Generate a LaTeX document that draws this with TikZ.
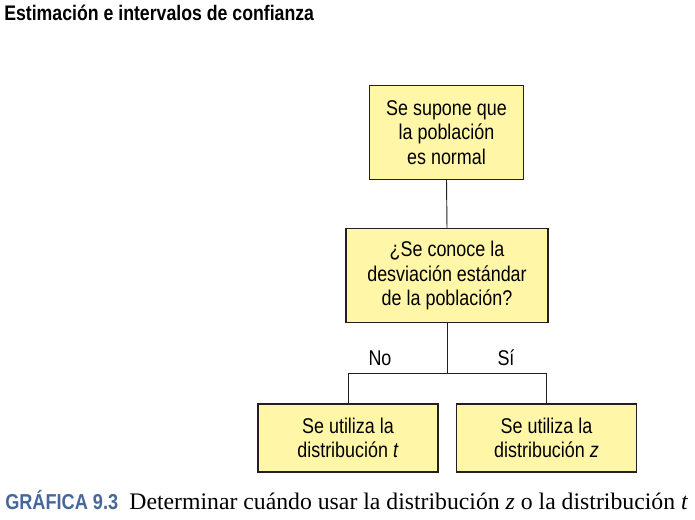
\documentclass[tikz,border=0pt]{standalone}
\usepackage{fontspec}
\setmainfont{Liberation Serif}
\newfontfamily\gothic[FakeStretch=0.84]{Liberation Sans}
\usepackage{xcolor}
\usetikzlibrary{positioning,calc}
\definecolor{BoxFill}{HTML}{FFF6A8}
\definecolor{BoxLine}{HTML}{231F20}
\definecolor{CapBlue}{HTML}{46679A}
\begin{document}
\begin{tikzpicture}[
    x=0.75pt,y=-0.75pt,
    box/.style={draw=BoxLine, fill=BoxFill, line width=0.8pt, align=center,
      inner sep=0pt, font=\gothic\fontsize{16}{18.5}\selectfont},
    bigbox/.style={box, minimum width=116pt, minimum height=70pt},
    widebox/.style={box, minimum width=151.5pt, minimum height=70pt},
    leafbox/.style={box, minimum width=135pt, minimum height=51pt},
    link/.style={draw=BoxLine, line width=0.7pt},
    answer/.style={font=\gothic\fontsize{16}{18}\selectfont, inner sep=0pt}
  ]
    \useasboundingbox (0,0) rectangle (695,520);

    \node[anchor=west, inner sep=0pt, font=\gothic\bfseries\fontsize{15.8}{18}\selectfont]
      (title) at (4,13) {Estimación e intervalos de confianza};

    \node[bigbox] (normal) at (446.5,132.5) {Se supone que\\la población\\es normal};
    \node[widebox] (known) at (447,275.5) {¿Se conoce la\\desviación estándar\\de la población?};
    \node[leafbox] (dist_t) at (348,438) {Se utiliza la\\distribución \textit{t}};
    \node[leafbox] (dist_z) at (546.5,438) {Se utiliza la\\distribución \textit{z}};

    \coordinate (split) at (known.south |- 0,373);

    \draw[link] (normal.south) -- (known.north);
    \draw[link] (known.south) -- (split);
    \draw[link] (split) -| (dist_t.north);
    \draw[link] (split) -| (dist_z.north);

    \node[answer] (no) at (380,358) {No};
    \node[answer] (si) at (506,358) {Sí};

    \node[anchor=west, inner sep=0pt, font=\gothic\bfseries\fontsize{16.2}{18}\selectfont,
      text=CapBlue] (capnum) at (5,500) {GRÁFICA 9.3};
    \node[anchor=base west, inner sep=0pt, font=\fontsize{17.8}{20}\selectfont]
      (captext) at ([xshift=8pt]capnum.base east)
      {Determinar cuándo usar la distribución \textit{z} o la distribución \textit{t}};
\end{tikzpicture}
\end{document}
